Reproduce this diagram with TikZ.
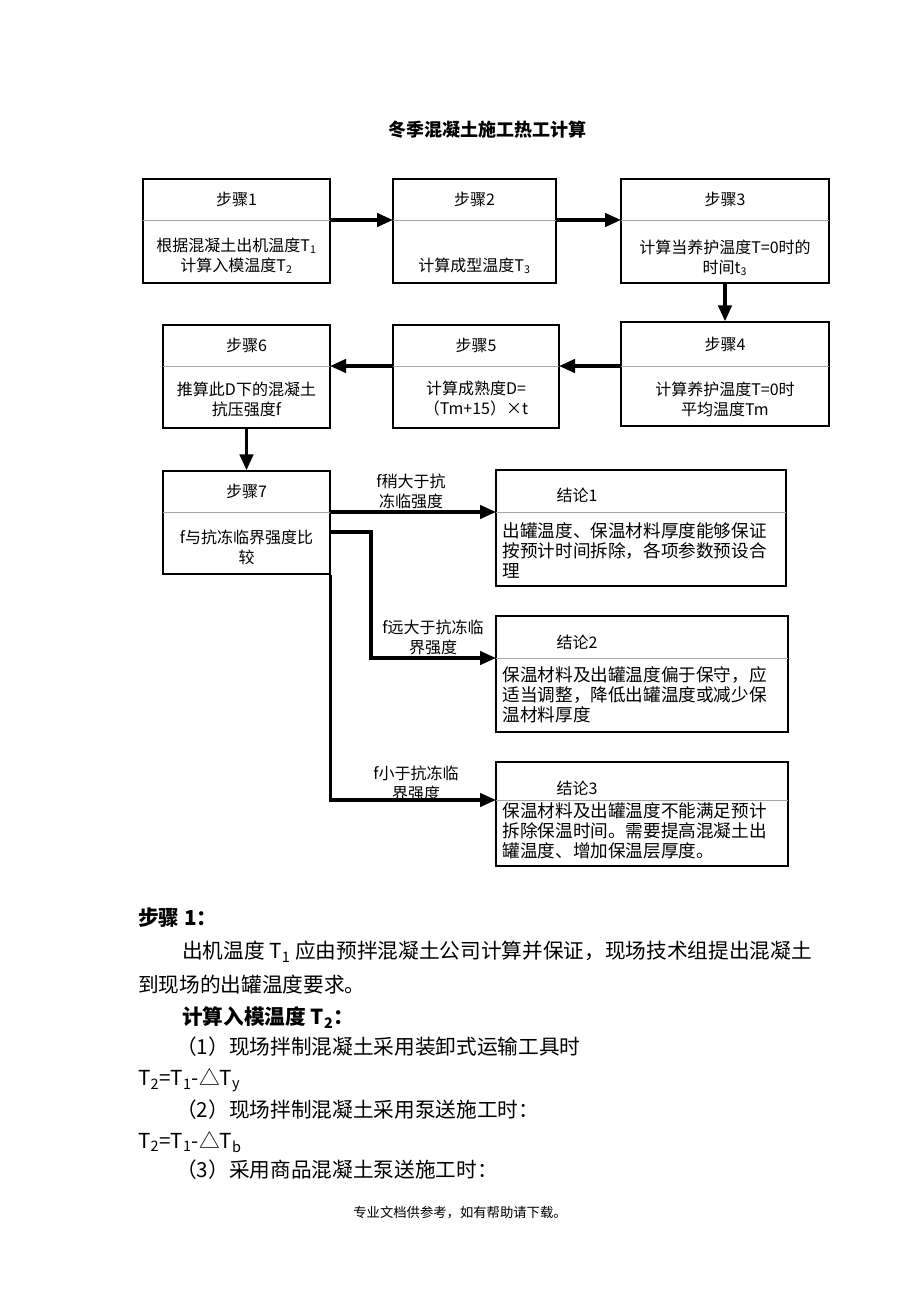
\documentclass[tikz,border=0pt]{standalone}
\usepackage{fontspec}
\setmainfont{Noto Sans CJK SC}
\usetikzlibrary{arrows.meta, calc, fit, positioning}
\tikzset{
	box/.style={draw, line width=1pt, inner sep=0pt},
	head/.style={font=\fontsize{12}{14}\selectfont},
	body/.style={font=\fontsize{12}{15}\selectfont, align=center},
	cbody/.style={font=\fontsize{13.2}{15}\selectfont, align=left, anchor=west},
	arr/.style={line width=2.6pt, -{Triangle[length=12pt, width=10pt]}},
	txt/.style={font=\fontsize{15.5}{18}\selectfont, anchor=west, inner sep=0pt},
}
% box with a header row: name, x1, y1, x2, y2, divider y, header
\newcommand\stepbox[7]{%
	\coordinate (#1-nw) at (#2,#3);
	\coordinate (#1-se) at (#4,#5);
	\coordinate (#1-dl) at (#2,#6);
	\coordinate (#1-dr) at (#4,#6);
	\node[box, fit=(#1-nw)(#1-se)] (#1) {};
	\draw[gray!70, line width=0.5pt] (#1-dl) -- (#1-dr);
	\node[head] (#1-h) at ($(#1-nw)!0.5!(#1-dr)$) {#7};
}
\begin{document}
\begin{tikzpicture}[x=0.75pt, y=-0.75pt]
	\useasboundingbox (0,0) rectangle (920,1302);
	\node[font=\fontsize{13.5}{16}\bfseries] (title) at (487,130) {冬季混凝土施工热工计算};

	\stepbox{s1}{143}{179}{330}{283}{220}{步骤1}
	\stepbox{s2}{393}{179}{556}{283}{220}{步骤2}
	\stepbox{s3}{621}{179}{829}{283}{220}{步骤3}
	\stepbox{s4}{621}{322}{829}{426}{366}{步骤4}
	\stepbox{s5}{393}{325}{559}{428}{366}{步骤5}
	\stepbox{s6}{163}{325}{330}{428}{366}{步骤6}
	\stepbox{s7}{163}{471}{330}{574}{512}{步骤7}
	\node[body] (s1-b) at (236.5,256) {根据混凝土出机温度T\textsubscript{1}\\计算入模温度T\textsubscript{2}};
	\node[body] (s2-b) at (474.5,266) {计算成型温度T\textsubscript{3}};
	\node[body] (s3-b) at (725,258) {计算当养护温度T=0时的\\时间t\textsubscript{3}};
	\node[body] (s4-b) at (725,399) {计算养护温度T=0时\\平均温度Tm};
	\node[body] (s5-b) at (476,399) {计算成熟度D=\\（Tm+15）×t};
	\node[body] (s6-b) at (246.5,399) {推算此D下的混凝土\\抗压强度f};
	\node[body] (s7-b) at (246.5,547) {f与抗冻临界强度比\\较};

	\stepbox{c1}{496}{470}{786}{586}{512}{}
	\stepbox{c2}{496}{616}{788}{732}{658}{}
	\stepbox{c3}{496}{762}{788}{866}{800}{}
	\node[head] (c1-t) at (577,495) {结论1};
	\node[head] (c2-t) at (577,642) {结论2};
	\node[head] (c3-t) at (577,788) {结论3};
	\node[cbody] (c1-b) at (498,550) {出罐温度、保温材料厚度能够保证\\按预计时间拆除，各项参数预设合\\理};
	\node[cbody] (c2-b) at (498,695) {保温材料及出罐温度偏于保守，应\\适当调整，降低出罐温度或减少保\\温材料厚度};
	\node[cbody] (c3-b) at (498,831) {保温材料及出罐温度不能满足预计\\拆除保温时间。需要提高混凝土出\\罐温度、增加保温层厚度。};

	\draw[arr] (s1-dr) -- (s2-dl);
	\draw[arr] (s2-dr) -- (s3-dl);
	\draw[arr] (s3.south) -- (s4.north);
	\draw[arr] (s4-dl) -- (s5-dr);
	\draw[arr] (s5-dl) -- (s6-dr);
	\draw[arr] (s6.south) -- (s7.north);
	\draw[arr] (s7-dr) -- (c1-dl);
	\coordinate (k2) at (330,532);
	\coordinate (k2b) at (371,532);
	\draw[arr] (k2) -- (k2b) |- (c2-dl);
	\draw[arr] (s7.south east) |- (c3-dl);
	\node[body] (l1) at (411,491) {f稍大于抗\\冻临强度};
	\node[body] (l2) at (433,637) {f远大于抗冻临\\界强度};
	\node[body] (l3) at (416,783) {f小于抗冻临\\界强度};

	\node[txt, font=\fontsize{15.5}{18}\bfseries] (p0) at (138,918) {步骤 1：};
	\node[txt] (p1) at (182,952) {出机温度 T\textsubscript{1} 应由预拌混凝土公司计算并保证，现场技术组提出混凝土};
	\node[txt] (p2) at (138,985) {到现场的出罐温度要求。};
	\node[txt, font=\fontsize{15.5}{18}\bfseries] (p3) at (182,1018) {计算入模温度 T\textsubscript{2}：};
	\node[txt] (p4) at (176,1047) {（1）现场拌制混凝土采用装卸式运输工具时};
	\node[txt] (p5) at (138,1080) {T\textsubscript{2}=T\textsubscript{1}-△T\textsubscript{y}};
	\node[txt] (p6) at (176,1110) {（2）现场拌制混凝土采用泵送施工时：};
	\node[txt] (p7) at (138,1142) {T\textsubscript{2}=T\textsubscript{1}-△T\textsubscript{b}};
	\node[txt] (p8) at (176,1170) {（3）采用商品混凝土泵送施工时：};
	\node[font=\fontsize{10}{12}\selectfont] (foot) at (460,1213) {专业文档供参考，如有帮助请下载。};
\end{tikzpicture}
\end{document}
